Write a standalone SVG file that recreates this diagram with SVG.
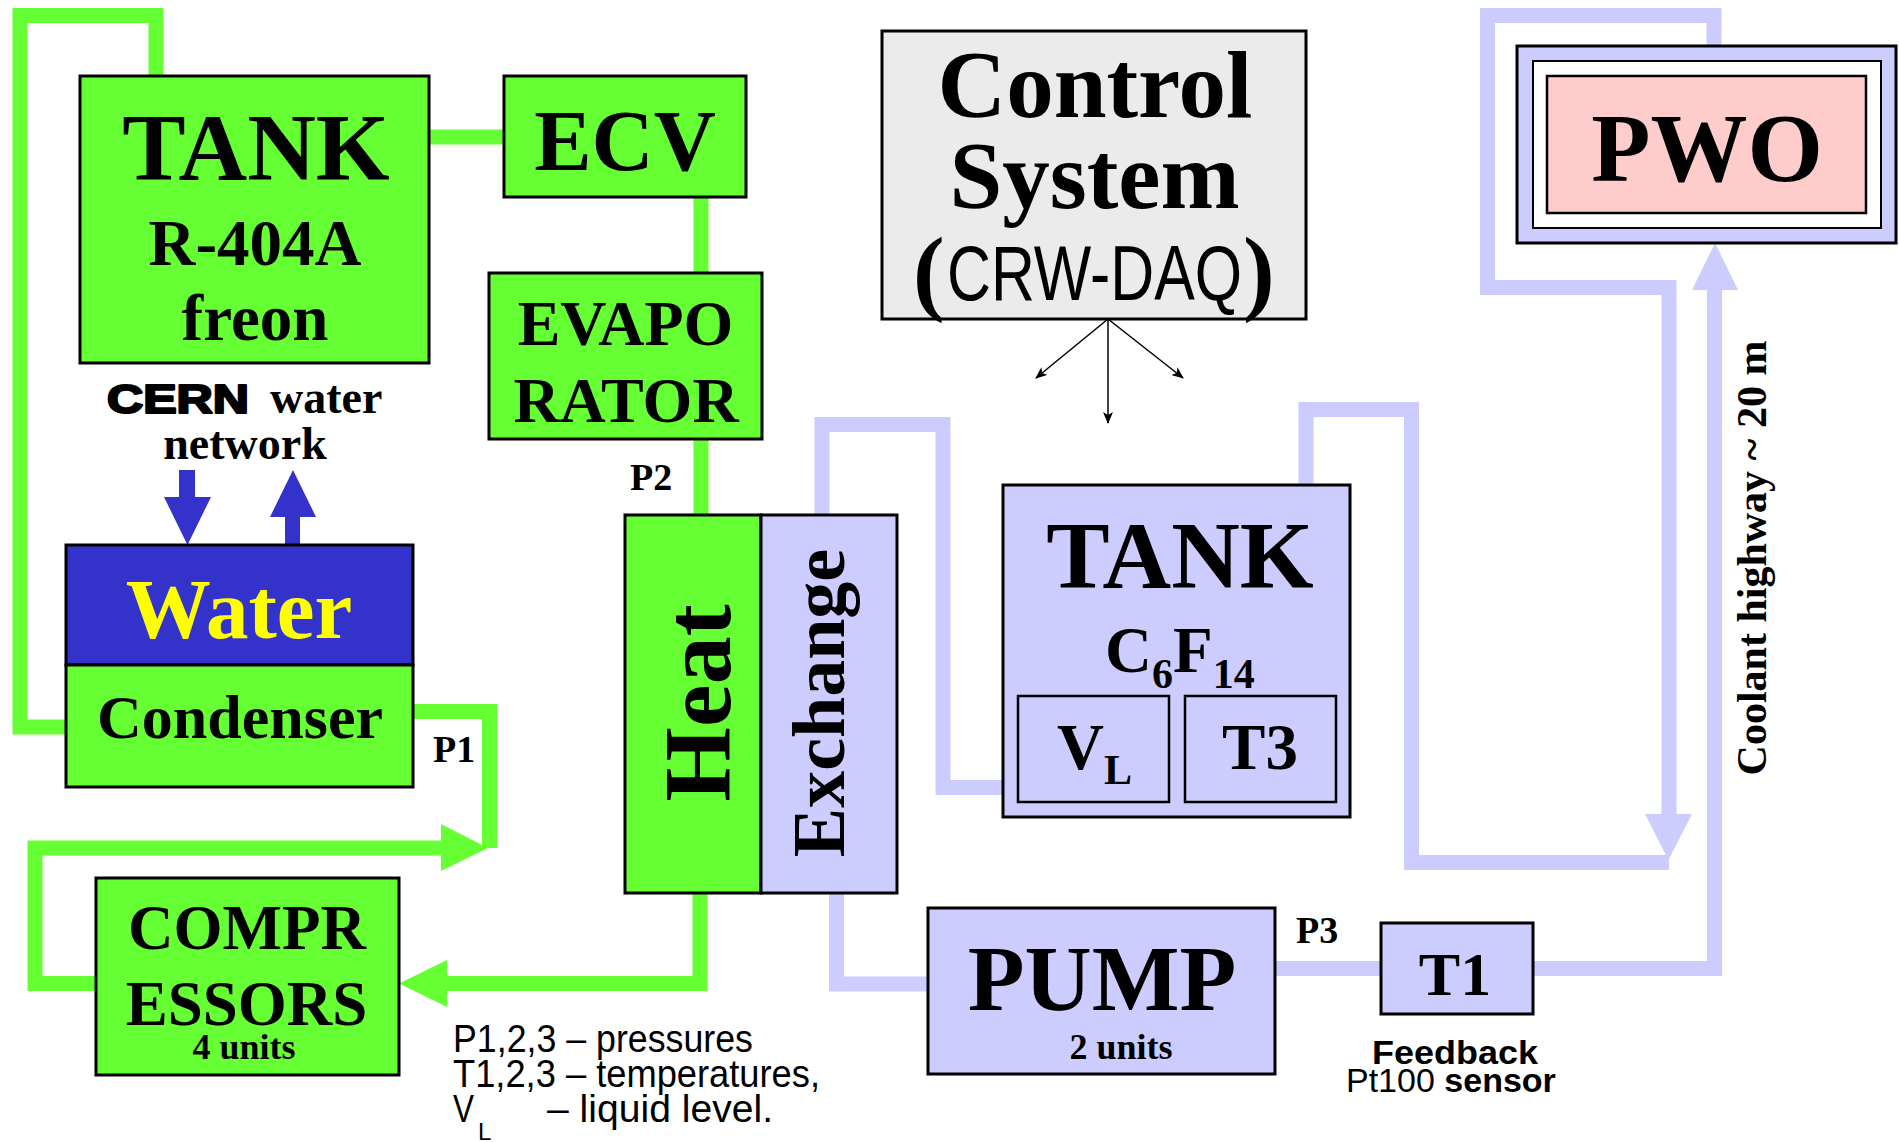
<svg xmlns="http://www.w3.org/2000/svg" width="1899" height="1142" viewBox="0 0 1899 1142">
<style>
.box{stroke:#000;stroke-width:3}
.g{fill:#66FF33}
.l{fill:#CCCCFF}
.gp{fill:none;stroke:#66FF33;stroke-width:15;stroke-linejoin:miter}
.lp{fill:none;stroke:#CCCCFF;stroke-width:15;stroke-linejoin:miter}
.t{font-family:"Liberation Serif","Times New Roman",serif;font-weight:bold;fill:#000}
.s{font-family:"Liberation Sans",Arial,sans-serif;fill:#000}
.m{text-anchor:middle}
.thin{stroke:#000;stroke-width:1.5;fill:none}
</style>
<defs>
<marker id="ah" viewBox="0 0 12 10" refX="11" refY="5" markerWidth="12" markerHeight="10" markerUnits="userSpaceOnUse" orient="auto">
<path d="M0,0 L12,5 L0,10 L3,5 z" fill="#000"/>
</marker>
</defs>
<rect width="1899" height="1142" fill="#fff"/>
<g id="connectors">
<!-- green freon circuit -->
<path class="gp" d="M156,76 V15.5 H20 V727 H66"/>
<path class="gp" d="M429,137 H504"/>
<path class="gp" d="M701,197 V273"/>
<path class="gp" d="M701,439 V515"/>
<path class="gp" d="M413,711.5 H489.5 V848"/>
<polygon points="441,824 441,871 488,848" fill="#66FF33"/>
<path class="gp" d="M442,848 H35 V983.5 H96"/>
<path class="gp" d="M700,893 V983.5 H445"/>
<polygon points="447,960 447,1007 399,983.5" fill="#66FF33"/>
<!-- lavender coolant circuit -->
<path class="lp" d="M822,515 V424.5 H943 V787.5 H1003"/>
<path class="lp" d="M1306,485 V409.5 H1411.5 V862.5 H1669"/>
<path class="lp" d="M1714,46 V15.5 H1487.5 V287.5 H1669 V815"/>
<polygon points="1645,814 1692,814 1668.5,860" fill="#CCCCFF"/>
<path class="lp" d="M836.5,893 V984 H928"/>
<path class="lp" d="M1275,968.5 H1381"/>
<path class="lp" d="M1533,968.5 H1714.5 V289"/>
<polygon points="1692,290 1738,290 1715,243" fill="#CCCCFF"/>
<!-- CERN water network arrows -->
<rect x="179" y="470" width="16" height="29" fill="#3333CC"/>
<polygon points="164,497 211,497 187.5,545" fill="#3333CC"/>
<rect x="285" y="515" width="15" height="30" fill="#3333CC"/>
<polygon points="270,517 316,517 293,470" fill="#3333CC"/>
<!-- control signals -->
<line class="thin" x1="1108" y1="319" x2="1036" y2="378" marker-end="url(#ah)"/>
<line class="thin" x1="1108" y1="319" x2="1108" y2="423" marker-end="url(#ah)"/>
<line class="thin" x1="1108" y1="319" x2="1183" y2="378" marker-end="url(#ah)"/>
</g>
<g id="tank-r404a">
<rect class="box g" x="80" y="76" width="349" height="287"/>
<text class="t m" x="256" y="180" font-size="95">TANK</text>
<text class="t m" x="255" y="265" font-size="65">R-404A</text>
<text class="t m" x="255" y="340" font-size="65">freon</text>
</g>
<g id="ecv">
<rect class="box g" x="504" y="76" width="242" height="121"/>
<text class="t m" x="625" y="170" font-size="86">ECV</text>
</g>
<g id="evaporator">
<rect class="box g" x="489" y="273" width="273" height="166"/>
<text class="t m" x="625.5" y="345" font-size="64">EVAPO</text>
<text class="t m" x="626" y="422" font-size="64">RATOR</text>
</g>
<g id="cern-water-network">
<text class="s" x="107" y="413" font-size="40" font-weight="bold" stroke="#000" stroke-width="2.2" stroke-linejoin="round" textLength="142" lengthAdjust="spacingAndGlyphs">CERN</text>
<text class="t" x="270" y="413" font-size="46">water</text>
<text class="t m" x="245" y="459" font-size="46">network</text>
</g>
<g id="water-condenser">
<rect class="box" x="66" y="545" width="347" height="120" fill="#3333CC"/>
<text class="t m" x="239" y="638" font-size="85" style="fill:#FFFF00">Water</text>
<rect class="box g" x="66" y="665" width="347" height="122"/>
<text class="t m" x="240" y="738" font-size="62">Condenser</text>
</g>
<g id="compressors">
<rect class="box g" x="96" y="878" width="303" height="197"/>
<text class="t m" x="247" y="949" font-size="63">COMPR</text>
<text class="t m" x="246.5" y="1025" font-size="63">ESSORS</text>
<text class="t m" x="244" y="1059" font-size="36">4 units</text>
</g>
<g id="heat-exchanger">
<rect class="box g" x="625" y="515" width="136" height="378"/>
<rect class="box l" x="761" y="515" width="136" height="378"/>
<text class="t m" transform="translate(730,703) rotate(-90)" font-size="96">Heat</text>
<text class="t m" transform="translate(844,703) rotate(-90)" font-size="74">Exchange</text>
</g>
<g id="labels-pressure">
<text class="t" x="433" y="762" font-size="38">P1</text>
<text class="t" x="630" y="490" font-size="38">P2</text>
<text class="t" x="1296" y="943" font-size="38">P3</text>
</g>
<g id="control-system">
<rect class="box" x="882" y="31" width="424" height="288" fill="#EBEBEB"/>
<text class="t m" x="1095" y="117" font-size="95">Control</text>
<text class="t m" x="1094.5" y="208" font-size="95">System</text>
<text class="t" x="913" y="303" font-size="95">(</text>
<text class="s" x="947" y="300" font-size="77" textLength="295" lengthAdjust="spacingAndGlyphs">CRW-DAQ</text>
<text class="t" x="1243" y="303" font-size="95">)</text>
</g>
<g id="pwo">
<rect class="box l" x="1517" y="46" width="379" height="197"/>
<rect x="1533" y="61" width="348" height="167" fill="#fff" stroke="#000" stroke-width="2"/>
<rect x="1547" y="76" width="319" height="137" fill="#FFCCCC" stroke="#000" stroke-width="2.5"/>
<text class="t m" x="1707" y="181" font-size="97">PWO</text>
</g>
<g id="tank-c6f14">
<rect class="box l" x="1003" y="485" width="347" height="332"/>
<text class="t m" x="1180" y="588" font-size="95">TANK</text>
<text class="t" x="1105" y="672" font-size="65">C<tspan font-size="42" dy="16">6</tspan><tspan dy="-16">F</tspan><tspan font-size="42" dy="16">14</tspan></text>
<rect x="1018" y="696" width="151" height="106" fill="none" stroke="#000" stroke-width="2.5"/>
<text class="t" x="1057" y="769" font-size="65">V<tspan font-size="42" dy="15">L</tspan></text>
<rect x="1185" y="696" width="151" height="106" fill="none" stroke="#000" stroke-width="2.5"/>
<text class="t m" x="1260" y="769" font-size="65">T3</text>
</g>
<g id="pump">
<rect class="box l" x="928" y="908" width="347" height="166"/>
<text class="t m" x="1102" y="1010" font-size="93">PUMP</text>
<text class="t m" x="1121" y="1059" font-size="36">2 units</text>
</g>
<g id="t1">
<rect class="box l" x="1381" y="923" width="152" height="91"/>
<text class="t m" x="1455" y="995" font-size="62">T1</text>
<text class="s" x="1372" y="1064" font-size="33" font-weight="bold" textLength="166" lengthAdjust="spacingAndGlyphs">Feedback</text>
<text class="s" x="1346" y="1092" font-size="34">Pt100 <tspan font-weight="bold">sensor</tspan></text>
</g>
<g id="coolant-highway">
<text class="t m" transform="translate(1766,558) rotate(-90)" font-size="42">Coolant highway ~ 20 m</text>
</g>
<g id="legend">
<text class="s" x="453" y="1052" font-size="39" textLength="300" lengthAdjust="spacingAndGlyphs">P1,2,3 – pressures</text>
<text class="s" x="453" y="1087" font-size="39" textLength="367" lengthAdjust="spacingAndGlyphs">T1,2,3 – temperatures,</text>
<text class="s" x="453" y="1122" font-size="39" textLength="21" lengthAdjust="spacingAndGlyphs">V</text>
<text class="s" x="478" y="1140" font-size="24">L</text>
<text class="s" x="547" y="1122" font-size="39" textLength="226" lengthAdjust="spacingAndGlyphs">– liquid level.</text>
</g>
</svg>
